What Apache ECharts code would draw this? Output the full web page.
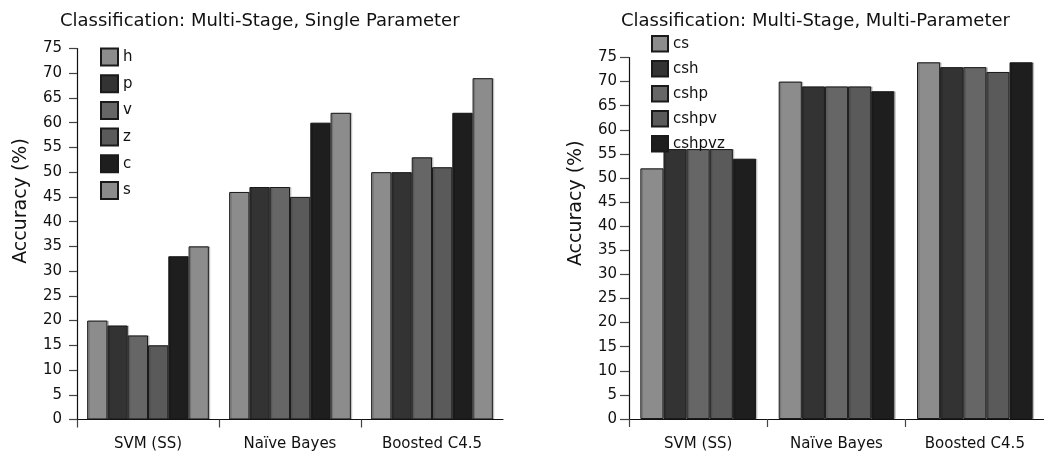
<!DOCTYPE html>
<html>
<head>
<meta charset="utf-8">
<script src="https://cdn.jsdelivr.net/npm/echarts@6/dist/echarts.min.js"></script>
<style>
  html, body { margin: 0; padding: 0; background: #fff; }
  #chart { width: 1044px; height: 452px; }
</style>
</head>
<body>
<div id="chart"></div>
<script>
// Classifier groups on the x axis (shared by both panels)
const categories = ['SVM (SS)', 'Naïve Bayes', 'Boosted C4.5'];
const yTicks = { min: 0, max: 75, step: 5 };

// Left panel: single-parameter classifiers, accuracy (%)
const singleNames = ['h', 'p', 'v', 'z', 'c', 's'];
const single_h = [20, 46, 50];
const single_p = [19, 47, 50];
const single_v = [17, 47, 53];
const single_z = [15, 45, 51];
const single_c = [33, 60, 62];
const single_s = [35, 62, 69];

// Right panel: multi-parameter classifiers, accuracy (%)
const multiNames = ['cs', 'csh', 'cshp', 'cshpv', 'cshpvz'];
const multi_cs = [52, 70, 74];
const multi_csh = [56, 69, 73];
const multi_cshp = [56, 69, 73];
const multi_cshpv = [56, 69, 72];
const multi_cshpvz = [54, 68, 74];

const singleValues = [single_h, single_p, single_v, single_z, single_c, single_s];
const multiValues = [multi_cs, multi_csh, multi_cshp, multi_cshpv, multi_cshpvz];

const singleColors = ['#8c8c8c', '#333333', '#666666', '#5a5a5a', '#1e1e1e', '#8c8c8c'];
const multiColors = ['#8c8c8c', '#333333', '#666666', '#5a5a5a', '#1e1e1e'];

const FONT = 'DejaVu Sans';
const INK = '#111';

function yAxis(gridIndex, nameGap, shift, tickLen, labelMargin) {
  return {
    type: 'value', gridIndex,
    min: yTicks.min, max: yTicks.max, interval: yTicks.step,
    name: 'Accuracy (%)', nameLocation: 'middle', nameGap,
    nameTextStyle: { fontFamily: FONT, fontSize: 19, color: INK, padding: [0, 0, 0, shift] },
    axisLine: { show: true, lineStyle: { color: INK, width: 1.2 } },
    axisTick: { show: true, length: tickLen, lineStyle: { color: '#444', width: 1.2 } },
    axisLabel: { fontFamily: FONT, fontSize: 15, color: INK, margin: labelMargin },
    splitLine: { show: false }
  };
}

function catAxis(gridIndex, margin) {
  return {
    type: 'category', gridIndex, data: categories,
    axisLine: { show: true, lineStyle: { color: INK, width: 1.2 } },
    axisTick: { show: false },
    axisLabel: { fontFamily: FONT, fontSize: 15, color: INK, margin },
    splitLine: { show: false }
  };
}

// group separators: ticks at the left boundary of each classifier group
function sepAxis(gridIndex) {
  return {
    type: 'value', gridIndex, position: 'bottom',
    min: 0, max: categories.length,
    axisLine: { show: false },
    axisTick: { show: true, length: 8, customValues: categories.map((_, i) => i),
                lineStyle: { color: '#444', width: 1.2 } },
    axisLabel: { show: false },
    splitLine: { show: false }
  };
}

function barSeries(names, values, colors, axisIdx, gap) {
  return names.map((name, i) => ({
    name, type: 'bar',
    xAxisIndex: axisIdx, yAxisIndex: axisIdx === 0 ? 0 : 1,
    data: values[i],
    barGap: '0%', barCategoryGap: gap,
    itemStyle: {
      color: colors[i], borderColor: '#1a1a1a', borderWidth: 1,
      shadowColor: 'rgba(0,0,0,0.18)', shadowOffsetX: 1.5, shadowBlur: 0
    },
    emphasis: { disabled: true }
  }));
}

const chart = echarts.init(document.getElementById('chart'), null, { renderer: 'canvas' });
chart.setOption({
  backgroundColor: '#fff',
  animation: false,
  title: [
    { text: 'Classification: Multi-Stage, Single Parameter', left: 55, top: 7,
      textStyle: { fontFamily: FONT, fontSize: 18, fontWeight: 'normal', color: INK } },
    { text: 'Classification: Multi-Stage, Multi-Parameter', left: 616, top: 7,
      textStyle: { fontFamily: FONT, fontSize: 18, fontWeight: 'normal', color: INK } }
  ],
  legend: [
    { data: singleNames, orient: 'vertical', left: 100, top: 47.5, padding: 0,
      itemWidth: 17, itemHeight: 17, itemGap: 7.7, itemTextGap: 6, icon: 'rect',
      selectedMode: false,
      textStyle: { fontFamily: FONT, fontSize: 15, color: INK } },
    { data: multiNames, orient: 'vertical', left: 651, top: 35, padding: 0,
      itemWidth: 16, itemHeight: 15.5, itemGap: 7.5, itemTextGap: 6, icon: 'rect',
      selectedMode: false,
      textStyle: { fontFamily: FONT, fontSize: 15, color: INK } }
  ],
  grid: [
    { left: 77, top: 48.5, width: 426, height: 371 },
    { left: 629, top: 57.5, width: 420, height: 362 }
  ],
  xAxis: [catAxis(0, 17), catAxis(1, 18), sepAxis(0), sepAxis(1)],
  yAxis: [yAxis(0, 46, 66, 8, 15), yAxis(1, 43, 70, 9, 12)],
  series: [
    ...barSeries(singleNames, singleValues, singleColors, 0, '14.3%'),
    ...barSeries(multiNames, multiValues, multiColors, 1, '16.4%')
  ]
});
</script>
</body>
</html>
